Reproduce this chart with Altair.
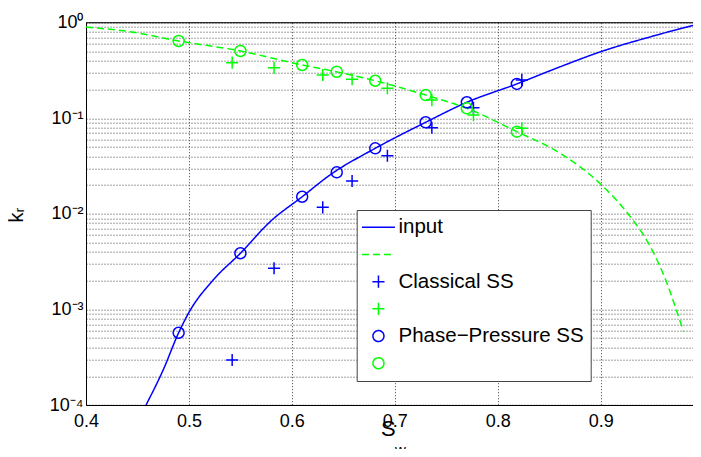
import altair as alt
import pandas as pd

# ---------------- data ----------------
# input curves
sw_curve_w = [0.4583, 0.475, 0.49, 0.4995, 0.5237, 0.55, 0.579, 0.61, 0.637,
              0.681, 0.73, 0.77, 0.8186, 0.861, 0.90, 0.95, 1.0]
krw_curve = [1.0e-4, 2.33e-4, 5.7e-4, 9.1e-4, 2.04e-3, 3.87e-3, 8.3e-3, 0.0151,
             0.0255, 0.0485, 0.0908, 0.147, 0.229, 0.347, 0.497, 0.72, 1.0]
sw_curve_o = [0.40, 0.443, 0.49, 0.55, 0.61, 0.643, 0.681, 0.73, 0.77, 0.8186,
              0.8607, 0.901, 0.9287, 0.9465, 0.9644, 0.9724, 0.9805]
kro_curve = [0.90, 0.805, 0.644, 0.506, 0.361, 0.307, 0.247, 0.175, 0.127,
             0.0724, 0.043, 0.020, 9.35e-3, 4.9e-3, 1.88e-3, 1.07e-3, 5.86e-4]

# classical steady-state
sw_classical = [0.542, 0.5827, 0.630, 0.6585, 0.6928, 0.736, 0.7764, 0.8234]
krw_classical = [2.96e-4, 2.70e-3, 0.0117, 0.0221, 0.0406, 0.0797, 0.129, 0.252]
kro_classical = [0.382, 0.338, 0.284, 0.256, 0.206, 0.155, 0.108, 0.0786]

# phase-pressure steady-state
sw_pp = [0.49, 0.55, 0.61, 0.6436, 0.681, 0.730, 0.770, 0.8186]
krw_pp = [5.7e-4, 3.87e-3, 0.0151, 0.0272, 0.0485, 0.0908, 0.147, 0.229]
kro_pp = [0.644, 0.506, 0.361, 0.307, 0.247, 0.175, 0.127, 0.0724]

# series / legend
series = ["w_in", "o_in", "w_cl", "o_cl", "w_pp", "o_pp"]
series_labels = ["input", "", "Classical SS", "", "Phase\u2212Pressure SS", ""]
series_colors = ["#0000ff", "#00ff00", "#0000ff", "#00ff00", "#0000ff", "#00ff00"]
LINE = "M-3,0H3"
PLUS = "M-1.1,0H1.1M0,-1.1V1.1"
series_shapes = [LINE, LINE, PLUS, PLUS, "circle", "circle"]
series_dash = [[1, 0], [7, 4], [1, 0], [1, 0], [1, 0], [1, 0]]

# axes (the right part of the plot, up to Sw = 1, lies beyond the picture edge)
x_domain = [0.4, 0.9897]
x_tick_values = [0.4, 0.5, 0.6, 0.7, 0.8, 0.9]
y_tick_values = [k * 10.0 ** d for d in range(-4, 0) for k in range(1, 10)] + [1.0]
y_decade_labels = {1.0: "10\u2070", 0.1: "10\u207b\u00b9", 0.01: "10\u207b\u00b2",
                   0.001: "10\u207b\u00b3", 0.0001: "10\u207b\u2074"}

# ---------------- build tables ----------------
line_rows = ([dict(sw=a, kr=b, s="w_in") for a, b in zip(sw_curve_w, krw_curve)] +
             [dict(sw=a, kr=b, s="o_in") for a, b in zip(sw_curve_o, kro_curve)])
pt_rows = ([dict(sw=a, kr=b, s="w_cl") for a, b in zip(sw_classical, krw_classical)] +
           [dict(sw=a, kr=b, s="o_cl") for a, b in zip(sw_classical, kro_classical)] +
           [dict(sw=a, kr=b, s="w_pp") for a, b in zip(sw_pp, krw_pp)] +
           [dict(sw=a, kr=b, s="o_pp") for a, b in zip(sw_pp, kro_pp)])
df_lines = pd.DataFrame(line_rows)
df_pts = pd.DataFrame(pt_rows)

FONT = "Liberation Sans"
W, H = 607, 382.3

label_expr = " : ".join(f"datum.label == '{k}' ? '{v}'"
                        for k, v in zip(series, series_labels) if v) + " : ''"
y_label_expr = " : ".join(f"datum.value == {k} ? '{v}'"
                          for k, v in y_decade_labels.items()) + " : ''"

legend = alt.Legend(
    title=None, orient="none", legendX=270.7, legendY=187.3,
    labelExpr=label_expr, labelFont=FONT, labelFontSize=20.5, labelColor="black",
    labelLimit=400,
    symbolSize=121, symbolStrokeWidth=1.5, symbolOffset=4.5, labelOffset=9.8,
    rowPadding=6.2, padding=7, strokeColor="#444444", fillColor="white",
    symbolFillColor="transparent",
)

color = alt.Color("s:N", scale=alt.Scale(domain=series, range=series_colors), legend=legend)
shape = alt.Shape("s:N", scale=alt.Scale(domain=series, range=series_shapes), legend=legend)
dash = alt.StrokeDash("s:N", scale=alt.Scale(domain=series, range=series_dash), legend=legend)

grid_kw = dict(grid=True, gridColor="#444444", gridDash=[1, 2], gridWidth=1, gridOpacity=1,
               ticks=False, domainColor="black", labelFont=FONT, labelFontSize=18,
               labelColor="black", labelOverlap=False)

x_enc = alt.X("sw:Q", scale=alt.Scale(domain=x_domain, nice=False, zero=False),
              axis=alt.Axis(values=x_tick_values, format=".1~f", title=None,
                            labelPadding=7, labelFlush=False, **grid_kw))
y_enc = alt.Y("kr:Q", scale=alt.Scale(type="log", domain=[1e-4, 1], nice=False),
              axis=alt.Axis(values=y_tick_values, labelExpr=y_label_expr, labelPadding=3,
                            title="k\u1d63", titleFont=FONT, titleFontSize=20,
                            titleFontWeight="normal", titleColor="black",
                            titleX=-70, titleY=192, titleAngle=270,
                            titleBaseline="middle", titleAlign="center",
                            labelFlush=False, **grid_kw))

lines = alt.Chart(df_lines).mark_line(strokeWidth=1.5, interpolate="monotone", clip=True).encode(
    x=x_enc, y=y_enc, color=color, strokeDash=dash)

points = alt.Chart(df_pts).mark_point(filled=False, size=121, strokeWidth=1.5, opacity=1,
                                      clip=True).encode(
    x=x_enc, y=y_enc, color=color, shape=shape)

one = pd.DataFrame({"t": [0]})
top_border = alt.Chart(one).mark_rule(color="black", strokeWidth=1).encode(
    x=alt.value(0), x2=alt.value(W), y=alt.value(0))
s_title = alt.Chart(one).mark_text(text="S", font=FONT, fontSize=22, color="black",
                                   baseline="middle", align="center").encode(
    x=alt.value(302.3), y=alt.value(406.3))
w_title = alt.Chart(one).mark_text(text="w", font=FONT, fontSize=15, color="black",
                                   baseline="middle", align="center").encode(
    x=alt.value(314.5), y=alt.value(427.5))

chart = alt.layer(lines, points, top_border, s_title, w_title).properties(
    width=W, height=H,
    autosize=alt.AutoSizeParams(type="none"),
    padding={"left": 78, "top": 14.7, "right": 0, "bottom": 44},
).configure_view(stroke=None).configure(background="white")

chart.save("out.html", embed_options={"renderer": "svg", "actions": False})
